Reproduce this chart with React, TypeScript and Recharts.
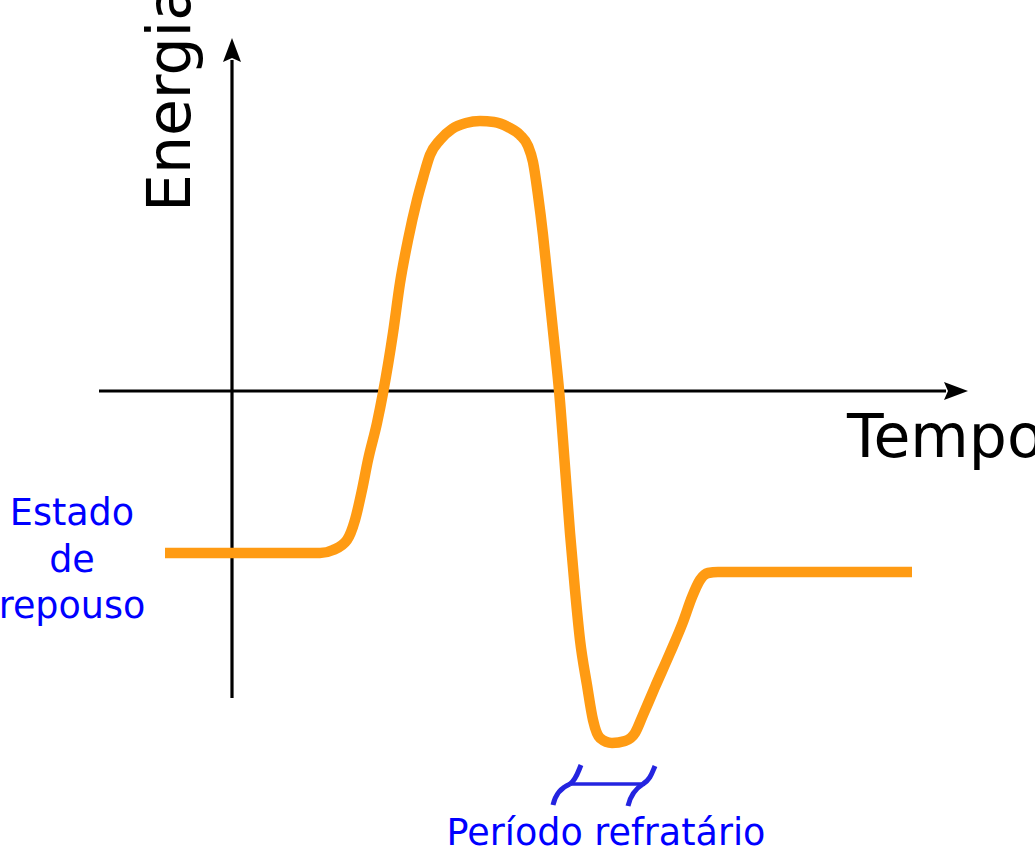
import React from "react";
import { LineChart, Line, XAxis, YAxis, ReferenceLine, Customized } from "recharts";

// time (t) and energy (E) in arbitrary units
const timeValues = [
  -6.8, 8.7, 10.0, 11.4, 12.2, 12.9, 13.5, 14.4, 15.0, 16.0, 16.7, 17.5, 18.4, 19.0, 19.7, 20.7,
  21.9, 23.3, 24.7, 26.1, 27.5, 28.7, 29.5, 30.0, 30.5, 31.0, 31.5, 32.2, 32.6, 33.2, 33.7, 34.2,
  34.7, 35.4, 36.0, 36.7, 37.9, 39.2, 40.2, 41.0, 42.2, 43.7, 45.0, 45.9, 46.7, 47.5, 48.5, 67.9,
];
const energyValues = [
  -16.3, -16.3, -16.0, -15.0, -13.0, -10.0, -7.0, -3.3, -0.3, 5.7, 10.7, 15.0, 19.0, 21.2, 23.5, 25.0,
  26.1, 26.7, 26.9, 26.8, 26.3, 25.5, 24.4, 22.8, 19.5, 15.5, 10.7, 4.0, 0.0, -7.7, -14.3, -20.0,
  -25.0, -29.5, -33.0, -34.8, -35.3, -35.1, -34.3, -32.5, -29.7, -26.3, -23.2, -20.7, -19.0, -18.3, -18.2, -18.2,
];
const xDomain = [-23.3, 80.2];
const yDomain = [-45.8, 39];
const timeAxisSegment = [{ x: -13.4, y: -0.1 }, { x: 71.3, y: -0.1 }];
const energyAxisSegment = [{ x: -0.1, y: -30.8 }, { x: -0.1, y: 33.0 }];

const axisTitleX = "Tempo";
const axisTitleY = "Energia";
const restLabel = ["Estado", "de", "repouso"];
const refractoryLabel = "Período refratário";

const data = timeValues.map((t, i) => ({ t, E: energyValues[i] }));

const ORANGE = "#ff9b13";
const BLUE = "#0000ff";
const FONT = "DejaVu Sans, sans-serif";

const arrowShape = (p: any) => (
  <line
    x1={p.x1}
    y1={p.y1}
    x2={p.x2}
    y2={p.y2}
    stroke="#000"
    strokeWidth={3.2}
    markerEnd="url(#arrowHead)"
  />
);

const Decorations = () => (
  <g>
    <defs>
      <marker
        id="arrowHead"
        markerUnits="userSpaceOnUse"
        viewBox="0 0 26 20"
        markerWidth={26}
        markerHeight={20}
        refX={2}
        refY={9}
        orient="auto"
      >
        <path d="M0,0 L24,9 L0,18 L4,9 Z" fill="#000" />
      </marker>
    </defs>
    <text
      x={190}
      y={212}
      transform="rotate(-90 190 212)"
      fontFamily={FONT}
      fontSize={60}
      fill="#000"
    >
      {axisTitleY}
    </text>
    <text x={847} y={457} fontFamily={FONT} fontSize={60} fill="#000">
      {axisTitleX}
    </text>
    {restLabel.map((s, i) => (
      <text
        key={s}
        x={72}
        y={525 + i * 46.5}
        textAnchor="middle"
        fontFamily={FONT}
        fontSize={36.5}
        fill={BLUE}
      >
        {s}
      </text>
    ))}
    <text x={606} y={845} textAnchor="middle" fontFamily={FONT} fontSize={36.5} fill={BLUE}>
      {refractoryLabel}
    </text>
    <g stroke="#2424e0" fill="none" strokeWidth={5} strokeLinecap="butt">
      <path d="M568,784 L645,784" strokeWidth={3.5} />
      <path d="M553,805 C555,796 560,788 570,784" />
      <path d="M570,784 C576,780 578,772 581,765" />
      <path d="M628,806 C630,797 635,789 643,784" />
      <path d="M643,784 C650,780 652,773 655,766" />
    </g>
  </g>
);

export default function App() {
  return (
    <div style={{ position: "absolute", left: 0, top: 0, width: 1035, height: 848, background: "#fff" }}>
      <LineChart width={1035} height={848} data={data} margin={{ top: 0, right: 0, bottom: 0, left: 0 }}>
        <XAxis type="number" dataKey="t" domain={xDomain} hide allowDataOverflow />
        <YAxis type="number" domain={yDomain} hide allowDataOverflow />
        <Customized component={<Decorations />} />
        <ReferenceLine segment={timeAxisSegment} shape={arrowShape} ifOverflow="visible" />
        <ReferenceLine segment={energyAxisSegment} shape={arrowShape} ifOverflow="visible" />
        <Line
          dataKey="E"
          type="monotone"
          stroke={ORANGE}
          strokeWidth={10.5}
          dot={false}
          activeDot={false}
          isAnimationActive={false}
        />
      </LineChart>
    </div>
  );
}
